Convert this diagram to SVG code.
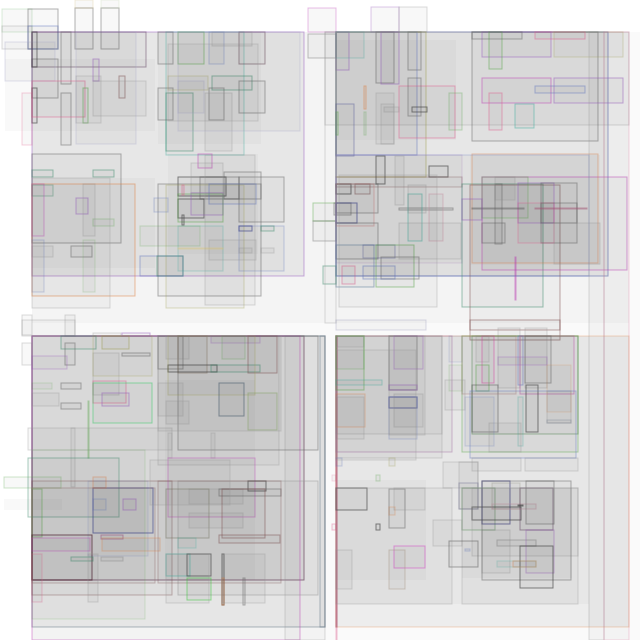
<svg xmlns="http://www.w3.org/2000/svg" width="640" height="640" viewBox="0 0 640 640">
<style>
rect{fill:#000;fill-opacity:.026;stroke-width:1;stroke-opacity:.5}
.f{stroke:none;fill-opacity:.025}
.k{stroke:#666}.d{stroke:#444;stroke-opacity:.65}.l{stroke:#999;stroke-opacity:.35}
.p{stroke:#9a5cc0}.b{stroke:#6478c0}.g{stroke:#5aaa4a}.t{stroke:#40b0a0}
.r{stroke:#e06090}.o{stroke:#e08040}.y{stroke:#a0a050}.m{stroke:#c040b8}.n{stroke:#805050}
.e{stroke:#3c8c6c}.u{stroke:#404890;stroke-opacity:.65}
</style>
<rect width="640" height="640" style="fill:#fff;fill-opacity:1;stroke:none"/>
<g id="bg">
<rect class="f" x="32" y="32" width="608" height="608" style="fill-opacity:.018"/>
<rect class="f" x="32" y="32" width="293" height="291"/>
<rect class="f" x="336" y="32" width="293" height="291"/>
<rect class="f" x="32" y="336" width="293" height="291"/>
<rect class="f" x="336" y="336" width="293" height="291"/>
<rect class="f" x="32" y="32" width="272" height="244"/>
<rect class="f" x="336" y="32" width="272" height="244"/>
<rect class="f" x="32" y="336" width="272" height="244"/>
<rect class="f" x="336" y="336" width="253" height="268"/>
<rect class="f" x="5" y="59" width="150" height="72"/>
<rect class="f" x="158" y="32" width="103" height="112"/>
<rect class="f" x="32" y="178" width="123" height="90"/>
<rect class="f" x="168" y="154" width="90" height="100"/>
<rect class="f" x="336" y="40" width="120" height="100"/>
<rect class="f" x="470" y="155" width="130" height="110"/>
<rect class="f" x="336" y="480" width="90" height="100"/>
<rect class="f" x="462" y="488" width="110" height="90"/>
<rect class="f" x="165" y="380" width="90" height="200"/>
<rect class="f" x="4" y="499" width="58" height="11"/>
</g>
<g id="q1">
<rect class="p" x="32" y="32" width="272" height="244"/>
<rect class="l" x="2" y="9" width="30" height="23" style="stroke:#9c9"/>
<rect class="l" x="2" y="26" width="30" height="23"/>
<rect class="k" x="28" y="9" width="30" height="40"/>
<rect class="b" x="28" y="26" width="30" height="23"/>
<rect class="k" x="75" y="8" width="18" height="41"/>
<rect class="k" x="101" y="8" width="18" height="41"/>
<rect class="l" x="75" y="0" width="18" height="8" style="stroke:#dc9"/>
<rect class="l" x="101" y="0" width="18" height="8" style="stroke:#cdb"/>
<rect class="n" x="32" y="32" width="114" height="35" style="stroke:#604060"/>
<rect class="l" x="5" y="42" width="50" height="39" style="stroke:#aac"/>
<rect class="k" x="32" y="59" width="26" height="39"/>
<rect class="d" x="32" y="32" width="5" height="35"/>
<rect class="d" x="32" y="88" width="5" height="35"/>
<rect class="k" x="61" y="32" width="10" height="52"/>
<rect class="k" x="61" y="93" width="10" height="52"/>
<rect class="p" x="93" y="59" width="6" height="22"/>
<rect class="n" x="119" y="76" width="6" height="22"/>
<rect class="r" x="32" y="81" width="53" height="36"/>
<rect class="r" x="22" y="93" width="10" height="52" style="stroke-opacity:.3"/>
<rect class="g" x="83" y="88" width="5" height="35"/>
<rect class="l" x="93" y="81" width="53" height="35"/>
<rect class="l" x="76" y="32" width="60" height="112" style="stroke:#aac"/>
<rect class="l" x="76" y="76" width="25" height="47"/>
<rect class="t" x="166" y="32" width="78" height="123" style="stroke-opacity:.4"/>
<rect class="g" x="178" y="32" width="26" height="32"/>
<rect class="b" x="209" y="32" width="15" height="32" style="stroke-opacity:.35"/>
<rect class="n" x="239" y="32" width="26" height="32" style="stroke:#604050"/>
<rect class="k" x="158" y="32" width="15" height="32"/>
<rect class="l" x="212" y="32" width="40" height="14"/>
<rect class="e" x="212" y="76" width="40" height="14"/>
<rect class="k" x="239" y="81" width="26" height="32"/>
<rect class="k" x="209" y="88" width="15" height="32"/>
<rect class="e" x="166" y="93" width="27" height="58"/>
<rect class="k" x="158" y="88" width="15" height="32"/>
<rect class="l" x="178" y="81" width="26" height="32" style="stroke:#aac"/>
<rect class="y" x="168" y="76" width="40" height="14" style="stroke-opacity:.3"/>
<rect class="l" x="205" y="93" width="27" height="58"/>
<rect class="l" x="178" y="32" width="122" height="99" style="stroke:#aac"/>
<rect class="l" x="168" y="44" width="90" height="77"/>
<rect class="k" x="32" y="154" width="89" height="89"/>
<rect class="o" x="32" y="184" width="103" height="112"/>
<rect class="e" x="32" y="170" width="21" height="7"/>
<rect class="e" x="93" y="170" width="21" height="7"/>
<rect class="e" x="32" y="185" width="21" height="11" style="stroke-opacity:.4"/>
<rect class="m" x="32" y="184" width="12" height="52" style="stroke-opacity:.4"/>
<rect class="p" x="76" y="198" width="12" height="16"/>
<rect class="g" x="93" y="219" width="21" height="7" style="stroke-opacity:.3"/>
<rect class="k" x="71" y="246" width="21" height="11"/>
<rect class="b" x="32" y="240" width="12" height="52" style="stroke-opacity:.3"/>
<rect class="l" x="32" y="246" width="21" height="11"/>
<rect class="l" x="83" y="184" width="12" height="52"/>
<rect class="g" x="83" y="240" width="12" height="52" style="stroke-opacity:.2"/>
<rect class="l" x="32" y="178" width="78" height="130"/>
<rect class="m" x="198" y="154" width="14" height="14"/>
<rect class="k" x="224" y="172" width="37" height="27"/>
<rect class="d" x="178" y="177" width="48" height="19"/>
<rect class="k" x="200" y="177" width="39" height="22"/>
<rect class="k" x="239" y="177" width="45" height="45"/>
<rect class="l" x="191" y="163" width="32" height="30"/>
<rect class="k" x="158" y="184" width="103" height="112"/>
<rect class="y" x="166" y="185" width="78" height="123" style="stroke-opacity:.35"/>
<rect class="d" x="178" y="199" width="26" height="19"/>
<rect class="p" x="191" y="193" width="32" height="22"/>
<rect class="b" x="209" y="184" width="47" height="20"/>
<rect class="b" x="154" y="198" width="14" height="14" style="stroke-opacity:.35"/>
<rect class="g" x="178" y="194" width="45" height="28"/>
<rect class="b" x="239" y="226" width="45" height="45" style="stroke-opacity:.35"/>
<rect class="u" x="239" y="226" width="13" height="5"/>
<rect class="e" x="261" y="226" width="13" height="5"/>
<rect class="b" x="140" y="256" width="43" height="20"/>
<rect class="e" x="157" y="256" width="26" height="20"/>
<rect class="t" x="178" y="226" width="45" height="45" style="stroke-opacity:.3"/>
<rect class="l" x="209" y="240" width="47" height="20"/>
<rect class="g" x="140" y="226" width="60" height="20" style="stroke-opacity:.25"/>
<rect class="l" x="239" y="248" width="13" height="5"/>
<rect class="l" x="261" y="248" width="13" height="5"/>
<rect class="r" x="182" y="185" width="2" height="10"/>
<rect class="d" x="182" y="215" width="2" height="10"/>
<rect class="y" x="178" y="248" width="45" height="1" style="stroke:#dc8"/>
<rect class="l" x="205" y="155" width="50" height="150"/>
<rect class="m" x="308" y="8" width="28" height="24" style="stroke-opacity:.35"/>
<rect class="k" x="308" y="34" width="28" height="24" style="stroke-opacity:.4"/>
<rect class="g" x="313" y="203" width="23" height="18" style="stroke-opacity:.45"/>
<rect class="k" x="313" y="221" width="23" height="20" style="stroke-opacity:.4"/>
<rect class="l" x="22" y="315" width="10" height="20"/>
<rect class="l" x="65" y="315" width="10" height="21"/>
</g>
<g id="q2">
<rect class="u" x="336" y="32" width="272" height="244" style="stroke:#6070b0;stroke-opacity:.6"/>
<rect class="l" x="325" y="32" width="304" height="93"/>
<rect class="p" x="371" y="7" width="28" height="25" style="stroke-opacity:.35"/>
<rect class="l" x="399" y="7" width="28" height="25"/>
<rect class="k" x="472" y="32" width="126" height="109"/>
<rect class="p" x="482" y="32" width="69" height="25"/>
<rect class="r" x="535" y="32" width="50" height="7"/>
<rect class="y" x="554" y="32" width="69" height="25" style="stroke-opacity:.3"/>
<rect class="g" x="489" y="32" width="13" height="37"/>
<rect class="k" x="472" y="32" width="50" height="7"/>
<rect class="m" x="482" y="78" width="69" height="25"/>
<rect class="p" x="554" y="78" width="69" height="25"/>
<rect class="b" x="535" y="86" width="50" height="7"/>
<rect class="r" x="489" y="93" width="13" height="37"/>
<rect class="t" x="515" y="104" width="19" height="24"/>
<rect class="p" x="336" y="32" width="13" height="38"/>
<rect class="t" x="336" y="32" width="28" height="26" style="stroke-opacity:.3"/>
<rect class="k" x="376" y="32" width="18" height="51"/>
<rect class="p" x="381" y="32" width="18" height="52"/>
<rect class="k" x="408" y="32" width="13" height="38"/>
<rect class="b" x="336" y="32" width="81" height="123"/>
<rect class="y" x="336" y="32" width="90" height="145"/>
<rect class="o" x="364" y="86" width="2" height="23"/>
<rect class="g" x="364" y="112" width="2" height="23" style="stroke-opacity:.3"/>
<rect class="r" x="399" y="86" width="56" height="52"/>
<rect class="k" x="408" y="78" width="13" height="38"/>
<rect class="d" x="412" y="107" width="15" height="5"/>
<rect class="l" x="384" y="107" width="15" height="5"/>
<rect class="l" x="381" y="104" width="13" height="40"/>
<rect class="l" x="376" y="93" width="18" height="51"/>
<rect class="g" x="449" y="93" width="13" height="37" style="stroke-opacity:.35"/>
<rect class="u" x="336" y="104" width="18" height="52" style="stroke-opacity:.4"/>
<rect class="g" x="336" y="112" width="2" height="23"/>
<rect class="l" x="336" y="155" width="126" height="108" style="stroke:#b9c"/>
<rect class="d" x="376" y="156" width="9" height="28"/>
<rect class="d" x="429" y="166" width="19" height="11"/>
<rect class="l" x="395" y="156" width="9" height="49"/>
<rect class="n" x="336" y="177" width="126" height="10" style="stroke-opacity:.35"/>
<rect class="d" x="336" y="184" width="15" height="10"/>
<rect class="n" x="355" y="184" width="15" height="10"/>
<rect class="k" x="336" y="184" width="42" height="29"/>
<rect class="k" x="334" y="203" width="17" height="12"/>
<rect class="u" x="336" y="203" width="21" height="20"/>
<rect class="n" x="336" y="184" width="38" height="42" style="stroke:#c88"/>
<rect class="k" x="336" y="223" width="42" height="36"/>
<rect class="t" x="336" y="245" width="38" height="42" style="stroke:#579"/>
<rect class="u" x="363" y="245" width="32" height="13" style="stroke-opacity:.35"/>
<rect class="g" x="376" y="245" width="38" height="42"/>
<rect class="k" x="381" y="257" width="38" height="22"/>
<rect class="b" x="363" y="266" width="32" height="13"/>
<rect class="r" x="342" y="266" width="13" height="18"/>
<rect class="e" x="323" y="266" width="13" height="18"/>
<rect class="k" x="399" y="208" width="54" height="2"/>
<rect class="t" x="408" y="194" width="14" height="47"/>
<rect class="n" x="429" y="194" width="14" height="47" style="stroke:#c9a"/>
<rect class="l" x="408" y="185" width="18" height="28"/>
<rect class="l" x="399" y="223" width="62" height="36"/>
<rect class="e" x="462" y="184" width="81" height="123"/>
<rect class="n" x="470" y="185" width="90" height="155"/>
<rect class="m" x="482" y="177" width="145" height="93"/>
<rect class="o" x="472" y="154" width="126" height="109" style="stroke-opacity:.4"/>
<rect class="g" x="482" y="177" width="46" height="41" style="stroke-opacity:.4"/>
<rect class="k" x="495" y="184" width="7" height="60"/>
<rect class="k" x="482" y="223" width="23" height="20"/>
<rect class="p" x="518" y="183" width="36" height="40"/>
<rect class="k" x="541" y="183" width="36" height="60"/>
<rect class="r" x="518" y="203" width="36" height="40" style="stroke-opacity:.4"/>
<rect class="k" x="541" y="203" width="36" height="20"/>
<rect class="k" x="472" y="208" width="52" height="1"/>
<rect class="r" x="535" y="208" width="52" height="1" style="stroke:#a57"/>
<rect class="m" x="515" y="257" width="1" height="43"/>
<rect class="p" x="462" y="199" width="20" height="21"/>
<rect class="l" x="554" y="223" width="46" height="41"/>
<rect class="l" x="495" y="177" width="20" height="23"/>
<rect class="b" x="336" y="155" width="253" height="121" style="stroke-opacity:.3"/>
<rect class="l" x="589" y="32" width="15" height="608"/>
<rect class="r" x="604" y="32" width="25" height="608" style="stroke-opacity:.25"/>
<rect class="l" x="325" y="32" width="11" height="291"/>
<rect class="l" x="339" y="175" width="98" height="132"/>
</g>
<g id="q3">
<rect class="n" x="32" y="336" width="272" height="244" style="stroke:#603050;stroke-opacity:.6"/>
<rect class="k" x="32" y="336" width="293" height="291" style="stroke:#678"/>
<rect class="m" x="32" y="336" width="268" height="304" style="stroke-opacity:.45"/>
<rect class="l" x="285" y="336" width="40" height="304"/>
<rect class="l" x="22" y="320" width="53" height="16"/>
<rect class="l" x="22" y="343" width="10" height="22"/>
<rect class="e" x="61" y="336" width="35" height="13"/>
<rect class="l" x="93" y="333" width="28" height="3"/>
<rect class="p" x="122" y="333" width="28" height="3"/>
<rect class="y" x="102" y="336" width="27" height="13"/>
<rect class="k" x="65" y="343" width="10" height="22"/>
<rect class="p" x="32" y="356" width="35" height="13" style="stroke-opacity:.35"/>
<rect class="k" x="122" y="353" width="28" height="3"/>
<rect class="l" x="93" y="353" width="26" height="42"/>
<rect class="y" x="93" y="336" width="59" height="40" style="stroke-opacity:.3"/>
<rect class="k" x="61" y="383" width="20" height="6"/>
<rect class="k" x="61" y="403" width="20" height="6"/>
<rect class="r" x="93" y="381" width="33" height="22"/>
<rect class="p" x="102" y="393" width="27" height="13"/>
<rect class="g" x="93" y="383" width="59" height="40" style="stroke:#3c6"/>
<rect class="g" x="32" y="383" width="20" height="6" style="stroke-opacity:.2"/>
<rect class="l" x="32" y="393" width="27" height="13"/>
<rect class="g" x="88" y="401" width="1" height="57" style="stroke-opacity:.4"/>
<rect class="l" x="28" y="428" width="144" height="22"/>
<rect class="l" x="71" y="428" width="4" height="59"/>
<rect class="e" x="28" y="458" width="91" height="59" style="stroke-opacity:.45"/>
<rect class="g" x="4" y="477" width="57" height="11" style="stroke-opacity:.3"/>
<rect class="n" x="32" y="481" width="140" height="114" style="stroke-opacity:.4"/>
<rect class="g" x="32" y="489" width="10" height="48"/>
<rect class="u" x="93" y="488" width="60" height="45"/>
<rect class="n" x="32" y="488" width="123" height="95" style="stroke:#977"/>
<rect class="o" x="93" y="477" width="13" height="11" style="stroke-opacity:.4"/>
<rect class="b" x="93" y="499" width="13" height="11" style="stroke-opacity:.35"/>
<rect class="p" x="123" y="499" width="13" height="11"/>
<rect class="b" x="88" y="481" width="60" height="75" style="stroke-opacity:.2"/>
<rect class="n" x="32" y="535" width="60" height="45" style="stroke:#502030;stroke-opacity:.7"/>
<rect class="m" x="32" y="538" width="58" height="13" style="stroke-opacity:.4"/>
<rect class="p" x="101" y="535" width="22" height="4" style="stroke:#947"/>
<rect class="o" x="102" y="538" width="58" height="13" style="stroke-opacity:.35"/>
<rect class="e" x="71" y="557" width="22" height="4"/>
<rect class="l" x="101" y="557" width="22" height="4" style="stroke:#777"/>
<rect class="r" x="32" y="554" width="10" height="48" style="stroke-opacity:.35"/>
<rect class="l" x="88" y="554" width="10" height="48"/>
<rect class="g" x="32" y="450" width="113" height="169" style="stroke-opacity:.2"/>
<rect class="l" x="158" y="336" width="121" height="129"/>
<rect class="k" x="178" y="336" width="140" height="114"/>
<rect class="k" x="158" y="336" width="25" height="33"/>
<rect class="l" x="166" y="336" width="23" height="23"/>
<rect class="n" x="178" y="336" width="29" height="37" style="stroke:#876"/>
<rect class="d" x="168" y="365" width="49" height="7"/>
<rect class="e" x="211" y="365" width="49" height="7"/>
<rect class="p" x="211" y="336" width="49" height="7" style="stroke-opacity:.35"/>
<rect class="n" x="248" y="336" width="29" height="37"/>
<rect class="g" x="222" y="336" width="23" height="23" style="stroke-opacity:.3"/>
<rect class="y" x="168" y="336" width="87" height="59" style="stroke-opacity:.35"/>
<rect class="u" x="219" y="383" width="25" height="33" style="stroke:#567"/>
<rect class="y" x="248" y="393" width="29" height="37" style="stroke:#8a6"/>
<rect class="l" x="158" y="383" width="25" height="33"/>
<rect class="l" x="166" y="401" width="23" height="23"/>
<rect class="l" x="158" y="336" width="123" height="95"/>
<rect class="l" x="211" y="433" width="4" height="25"/>
<rect class="l" x="168" y="433" width="4" height="25"/>
<rect class="m" x="168" y="458" width="87" height="59" style="stroke-opacity:.4"/>
<rect class="k" x="178" y="481" width="140" height="114" style="stroke:#999"/>
<rect class="d" x="248" y="481" width="18" height="10"/>
<rect class="y" x="166" y="489" width="43" height="49" style="stroke:#776"/>
<rect class="l" x="189" y="489" width="54" height="15"/>
<rect class="l" x="189" y="513" width="54" height="15"/>
<rect class="k" x="219" y="489" width="62" height="7"/>
<rect class="n" x="222" y="489" width="43" height="49"/>
<rect class="n" x="219" y="535" width="61" height="8"/>
<rect class="n" x="158" y="481" width="123" height="102" style="stroke-opacity:.35"/>
<rect class="t" x="178" y="538" width="18" height="10" style="stroke-opacity:.3"/>
<rect class="t" x="166" y="554" width="24" height="22"/>
<rect class="d" x="187" y="554" width="24" height="22"/>
<rect class="g" x="187" y="578" width="24" height="22" style="stroke:#3c3"/>
<rect class="l" x="166" y="554" width="43" height="49"/>
<rect class="d" x="222" y="554" width="2" height="51"/>
<rect class="o" x="222" y="578" width="2" height="27"/>
<rect class="k" x="243" y="578" width="2" height="27"/>
<rect class="l" x="222" y="554" width="43" height="49"/>
<rect class="l" x="150" y="460" width="80" height="45"/>
</g>
<g id="q4">
<rect class="b" x="320" y="336" width="5" height="291" style="stroke:#678"/>
<rect class="o" x="336" y="336" width="293" height="291" style="stroke-opacity:.3"/>
<rect class="n" x="336" y="336" width="1" height="291" style="stroke-opacity:.5"/>
<rect class="r" x="336" y="336" width="1" height="304" style="stroke-opacity:.4"/>
<rect class="n" x="470" y="320" width="90" height="10"/>
<rect class="l" x="336" y="320" width="90" height="10" style="stroke:#99b"/>
<rect class="l" x="498" y="328" width="22" height="60"/>
<rect class="l" x="525" y="328" width="22" height="60"/>
<rect class="l" x="336" y="336" width="106" height="98"/>
<rect class="r" x="336" y="336" width="116" height="116" style="stroke:#a7a"/>
<rect class="l" x="336" y="336" width="106" height="122"/>
<rect class="g" x="336" y="336" width="28" height="54"/>
<rect class="g" x="336" y="336" width="28" height="33" style="stroke-opacity:.3"/>
<rect class="l" x="336" y="336" width="28" height="11"/>
<rect class="t" x="336" y="380" width="46" height="5" style="stroke-opacity:.4"/>
<rect class="o" x="336" y="394" width="29" height="33" style="stroke-opacity:.35"/>
<rect class="l" x="336" y="397" width="28" height="42"/>
<rect class="k" x="389" y="336" width="28" height="54"/>
<rect class="p" x="394" y="336" width="29" height="33" style="stroke-opacity:.4"/>
<rect class="p" x="389" y="385" width="28" height="5"/>
<rect class="u" x="389" y="397" width="28" height="11"/>
<rect class="l" x="394" y="394" width="29" height="33"/>
<rect class="b" x="389" y="397" width="28" height="42" style="stroke-opacity:.3"/>
<rect class="l" x="389" y="336" width="36" height="99"/>
<rect class="b" x="449" y="336" width="13" height="26" style="stroke-opacity:.2"/>
<rect class="g" x="449" y="365" width="13" height="26" style="stroke-opacity:.2"/>
<rect class="g" x="462" y="336" width="116" height="116" style="stroke-opacity:.45"/>
<rect class="e" x="472" y="336" width="106" height="98" style="stroke:#585"/>
<rect class="r" x="482" y="336" width="12" height="47" style="stroke:#d4a"/>
<rect class="l" x="476" y="336" width="13" height="26"/>
<rect class="g" x="476" y="365" width="13" height="26"/>
<rect class="d" x="472" y="385" width="26" height="47" style="stroke-opacity:.45"/>
<rect class="n" x="462" y="336" width="54" height="58" style="stroke:#a77;stroke-opacity:.4"/>
<rect class="b" x="518" y="336" width="5" height="49"/>
<rect class="m" x="520" y="336" width="54" height="58" style="stroke:#b5a"/>
<rect class="k" x="525" y="336" width="26" height="47"/>
<rect class="p" x="498" y="357" width="49" height="8" style="stroke-opacity:.35"/>
<rect class="d" x="526" y="385" width="12" height="47"/>
<rect class="l" x="547" y="391" width="24" height="32"/>
<rect class="l" x="547" y="420" width="24" height="3" style="stroke:#789"/>
<rect class="o" x="547" y="365" width="24" height="47" style="stroke-opacity:.2"/>
<rect class="t" x="518" y="397" width="5" height="49" style="stroke-opacity:.3"/>
<rect class="b" x="470" y="391" width="106" height="67" style="stroke-opacity:.45"/>
<rect class="l" x="489" y="423" width="32" height="29"/>
<rect class="b" x="465" y="397" width="29" height="49" style="stroke-opacity:.25"/>
<rect class="l" x="472" y="458" width="49" height="13"/>
<rect class="l" x="525" y="458" width="53" height="13"/>
<rect class="l" x="443" y="462" width="35" height="26"/>
<rect class="l" x="459" y="462" width="19" height="47"/>
<rect class="p" x="459" y="483" width="19" height="26" style="stroke:#779"/>
<rect class="g" x="462" y="488" width="33" height="42" style="stroke:#696"/>
<rect class="u" x="482" y="481" width="28" height="43" style="stroke:#448"/>
<rect class="l" x="492" y="483" width="28" height="26" style="stroke:#998"/>
<rect class="d" x="472" y="507" width="49" height="13"/>
<rect class="r" x="492" y="504" width="44" height="5" style="stroke:#c9a;stroke-opacity:.45"/>
<rect class="n" x="520" y="488" width="33" height="42" style="stroke:#646"/>
<rect class="k" x="526" y="481" width="28" height="43"/>
<rect class="d" x="518" y="505" width="5" height="1"/>
<rect class="l" x="472" y="488" width="106" height="68"/>
<rect class="l" x="482" y="530" width="28" height="43"/>
<rect class="k" x="497" y="540" width="39" height="6" style="stroke-opacity:.35"/>
<rect class="p" x="526" y="530" width="28" height="43" style="stroke-opacity:.4"/>
<rect class="k" x="482" y="481" width="89" height="99"/>
<rect class="d" x="520" y="546" width="33" height="42"/>
<rect class="t" x="497" y="561" width="39" height="6" style="stroke-opacity:.25"/>
<rect class="o" x="513" y="561" width="23" height="6" style="stroke-opacity:.4"/>
<rect class="l" x="462" y="488" width="116" height="116"/>
<rect class="l" x="433" y="520" width="29" height="26"/>
<rect class="d" x="449" y="541" width="29" height="26" style="stroke-opacity:.45"/>
<rect class="b" x="465" y="549" width="5" height="2" style="stroke-opacity:.35"/>
<rect class="d" x="336" y="488" width="31" height="22"/>
<rect class="k" x="389" y="489" width="16" height="39"/>
<rect class="l" x="394" y="488" width="31" height="22"/>
<rect class="o" x="389" y="507" width="6" height="8" style="stroke-opacity:.3"/>
<rect class="d" x="376" y="524" width="4" height="6"/>
<rect class="m" x="394" y="546" width="31" height="22" style="stroke:#d4c"/>
<rect class="n" x="389" y="550" width="16" height="39" style="stroke:#a98;stroke-opacity:.45"/>
<rect class="l" x="336" y="550" width="16" height="39"/>
<rect class="l" x="336" y="488" width="116" height="116"/>
<rect class="b" x="336" y="458" width="6" height="8" style="stroke-opacity:.3"/>
<rect class="y" x="389" y="458" width="6" height="8" style="stroke-opacity:.3"/>
<rect class="r" x="332" y="475" width="4" height="6" style="stroke-opacity:.2"/>
<rect class="g" x="376" y="475" width="4" height="6" style="stroke-opacity:.3"/>
<rect class="r" x="332" y="524" width="4" height="6" style="stroke-opacity:.4"/>
<rect class="l" x="336" y="350" width="80" height="110"/>
<rect class="l" x="445" y="380" width="20" height="30"/>
</g>
<g id="connectors"></g>
</svg>
